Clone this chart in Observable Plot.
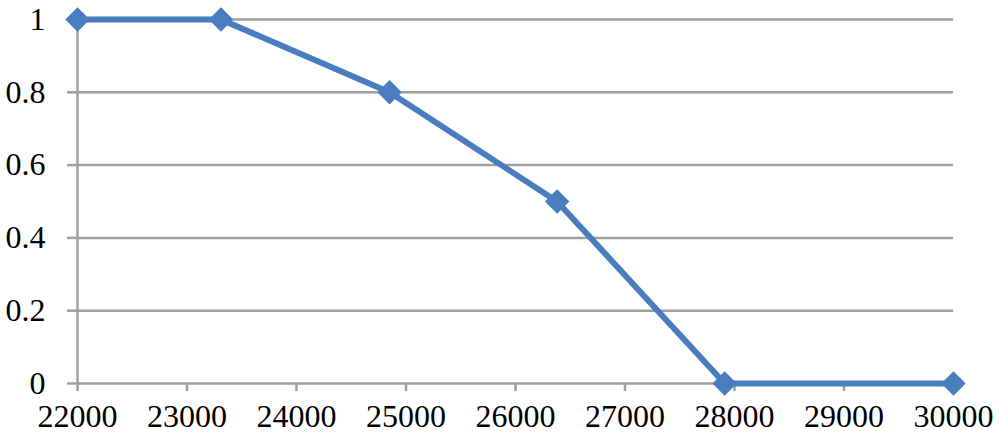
<!DOCTYPE html>
<html>
<head>
<meta charset="utf-8">
<script src="https://cdn.jsdelivr.net/npm/d3@7"></script>
<script src="https://cdn.jsdelivr.net/npm/@observablehq/plot@0.6"></script>
<style>
  html, body { margin: 0; padding: 0; background: #fff; }
  #chart svg { display: block; }
</style>
</head>
<body>
<div id="chart"></div>
<script>
const xValues = [22000, 23310, 24850, 26380, 27910, 30000];
const yValues = [1, 1, 0.8, 0.5, 0, 0];
const xTicks = [22000, 23000, 24000, 25000, 26000, 27000, 28000, 29000, 30000];
const yTicks = [0, 0.2, 0.4, 0.6, 0.8, 1];

const data = xValues.map((x, i) => ({x, y: yValues[i]}));

const gridColor = "#9f9f9f";
const lineColor = "#4a7dc0";
const font = "'Liberation Serif', 'Times New Roman', serif";

const chart = Plot.plot({
  width: 999,
  height: 443,
  marginLeft: 77,
  marginRight: 46,
  marginTop: 19,
  marginBottom: 60,
  style: {fontFamily: font, fontSize: "32px", color: "black", background: "white"},
  x: {domain: [22000, 30000]},
  y: {domain: [0, 1]},
  marks: [
    Plot.ruleY(yTicks, {stroke: gridColor, strokeWidth: 2.5}),
    Plot.ruleX([22000], {stroke: gridColor, strokeWidth: 2.5}),
    Plot.axisY({
      ticks: yTicks, tickSize: 10, tickPadding: 22,
      tickFormat: d => String(d),
      stroke: gridColor, strokeWidth: 2.5, fill: "black",
      fontSize: 32, fontFamily: font, label: null
    }),
    Plot.axisX({
      ticks: xTicks, tickSize: 8, tickPadding: 13,
      tickFormat: d => String(d),
      stroke: gridColor, strokeWidth: 2.5, fill: "black",
      fontSize: 32, fontFamily: font, label: null
    }),
    Plot.line(data, {x: "x", y: "y", stroke: lineColor, strokeWidth: 6}),
    Plot.dot(data, {x: "x", y: "y", symbol: "diamond2", r: 11, fill: lineColor, stroke: "none"})
  ]
});
document.getElementById("chart").appendChild(chart);
</script>
</body>
</html>
